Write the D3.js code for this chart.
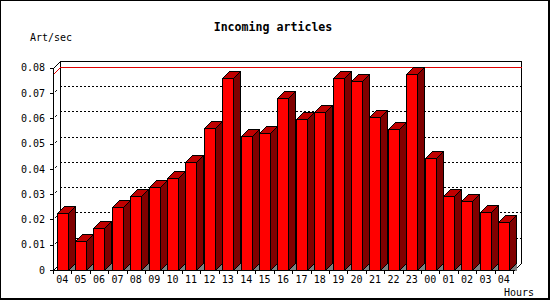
<!DOCTYPE html>
<html><head><meta charset="utf-8">
<script src="https://cdn.jsdelivr.net/npm/d3@7"></script>
<style>
html,body{margin:0;padding:0;background:#fff;}
svg{display:block;}
text{font-family:"DejaVu Sans Mono",monospace;fill:#000;}
</style></head>
<body>
<script>
const title = "Incoming articles";
const yTitle = "Art/sec";
const xTitle = "Hours";
const hours = ["04","05","06","07","08","09","10","11","12","13","14","15","16","17","18","19","20","21","22","23","00","01","02","03","04"];
const values = [0.0224,0.0115,0.0165,0.0248,0.0291,0.0327,0.0362,0.0425,0.0560,0.0757,0.0529,0.0540,0.0678,0.0597,0.0623,0.0757,0.0749,0.0603,0.0556,0.0773,0.0441,0.0294,0.0274,0.0230,0.0188];
const yTickValues = [0,0.01,0.02,0.03,0.04,0.05,0.06,0.07,0.08];
const yTickLabels = ["0","0.01","0.02","0.03","0.04","0.05","0.06","0.07","0.08"];

const W = 550, H = 300;
const D = 7; // depth offset
const svg = d3.select("body").append("svg").attr("width", W).attr("height", H);

// border
svg.append("rect").attr("x",0).attr("y",0).attr("width",W).attr("height",H).attr("fill","#fff");
svg.append("path").attr("d","M0.5,300V0.5H548").attr("stroke","#000").attr("fill","none").attr("shape-rendering","crispEdges");
svg.append("rect").attr("x",548).attr("y",0).attr("width",2).attr("height",300).attr("fill","#000");
svg.append("rect").attr("x",0).attr("y",298).attr("width",550).attr("height",2).attr("fill","#000");

const x0 = 53, x1 = 513, y0 = 270;
const y = d3.scaleLinear().domain([0,0.08]).range([y0, 67.6]);
const x = d3.scaleBand().domain(d3.range(hours.length)).range([x0, x1]).paddingInner(0).paddingOuter(0);
const bw = x.bandwidth();

const g = svg.append("g").attr("shape-rendering","crispEdges");

// back wall frame
const backTop = Math.round(y(0.08)) - D;
const r = v => Math.round(v) + 0.5;
g.append("path")
  .attr("d", `M${r(x0+D)},${r(y0-D)}V${r(backTop)}H${r(x1+D+1)}V${r(y0-D)}`)
  .attr("stroke","#000").attr("fill","none");

// gridlines (back plane)
g.selectAll("line.grid").data(yTickValues.filter(v => v > 0 && v < 0.08)).enter().append("line")
  .attr("x1", x0+D).attr("x2", x1+D+1)
  .attr("y1", d => r(y(d)-D)).attr("y2", d => r(y(d)-D))
  .attr("stroke","#000").attr("stroke-dasharray","2,2");

// small diagonal tick marks near the axis
g.selectAll("line.dtick").data(yTickValues.filter(v => v > 0 && v < 0.08)).enter().append("line")
  .attr("x1", x0+2).attr("x2", x0+4)
  .attr("y1", d => Math.round(y(d))-1).attr("y2", d => Math.round(y(d))-3)
  .attr("stroke","#000").attr("shape-rendering","auto").attr("stroke-width",0.9);

// max line (red)
const maxV = d3.max(values);
const ym = Math.round(y(maxV));
g.append("path")
  .attr("d", `M${x0},${ym}L${x0+D},${ym-D}H${x1+D+1}`)
  .attr("stroke","#e00000").attr("fill","none").attr("transform","translate(0.5,0.5)");

// frame diagonals
g.append("path").attr("d", `M${x0},${Math.round(y(0.08))}L${x0+D},${backTop}`).attr("stroke","#000").attr("fill","none").attr("transform","translate(0.5,0.5)");
g.append("path").attr("d", `M${x0},${y0}L${x0+D},${y0-D}`).attr("stroke","#000").attr("fill","none").attr("transform","translate(0.5,0.5)");
g.append("path").attr("d", `M${x1+1},${y0}L${x1+D+1},${y0-D}`).attr("stroke","#000").attr("fill","none").attr("transform","translate(0.5,0.5)");

// bars
const bars = g.selectAll("g.bar").data(values).enter().append("g").attr("class","bar")
  .attr("transform","translate(0.5,0.5)");
const fx = i => Math.round(x(i) + 3.5);
const fw = 11;
bars.append("path") // floor shadow
  .attr("d", (d,i) => `M${fx(i)+fw},${y0}L${fx(i)+fw+D},${y0-D}V${y0}Z`)
  .attr("fill","#808080").attr("stroke","none");
bars.append("path") // side
  .attr("d", (d,i) => { const t = Math.round(y(d)); const a = fx(i)+fw; return `M${a},${t}L${a+D},${t-D}V${y0-D}L${a},${y0}Z`; })
  .attr("fill","#800000").attr("stroke","#000");
bars.append("path") // top
  .attr("d", (d,i) => { const t = Math.round(y(d)); const a = fx(i); return `M${a},${t}L${a+D},${t-D}H${a+fw+D}L${a+fw},${t}Z`; })
  .attr("fill","#c00000").attr("stroke","#000");
bars.append("rect") // front
  .attr("x", (d,i) => fx(i)).attr("y", d => Math.round(y(d)))
  .attr("width", fw).attr("height", d => y0 - Math.round(y(d)))
  .attr("fill","#ff0000").attr("stroke","#000");

// y axis
const yAxis = d3.axisLeft(y).tickValues(yTickValues).tickFormat((d,i) => yTickLabels[i]).tickSize(3).tickSizeOuter(0).tickPadding(5);
const ya = svg.append("g").attr("transform",`translate(${x0},0)`).call(yAxis);
ya.selectAll("text").style("font-size","10px").style("font-family","DejaVu Sans Mono");
ya.selectAll("path,line").attr("stroke","#000").attr("shape-rendering","crispEdges");

// x axis
const xAxis = d3.axisBottom(x).tickFormat(i => hours[i]).tickSize(0).tickSizeOuter(0).tickPadding(6);
const xa = svg.append("g").attr("transform",`translate(0,${y0})`).call(xAxis);
xa.select(".domain").attr("d", `M${x0+0.5},0.5H${x1+1.5}`).attr("stroke","#000").attr("shape-rendering","crispEdges");
xa.selectAll("text").style("font-size","10px").style("font-family","DejaVu Sans Mono");
xa.selectAll("line.btick").data(d3.range(hours.length+1)).enter().append("line").attr("class","btick")
  .attr("x1", i => r(x0 + i*bw)).attr("x2", i => r(x0 + i*bw))
  .attr("y1", 0).attr("y2", 4).attr("stroke","#000").attr("shape-rendering","crispEdges");

// titles
svg.append("text").attr("x", 273).attr("y", 31).attr("text-anchor","middle")
  .style("font-size","11.6px").style("font-weight","bold").text(title);
svg.append("text").attr("x", 30).attr("y", 41).style("font-size","10px").text(yTitle);
svg.append("text").attr("x", 504).attr("y", 296).style("font-size","10px").text(xTitle);
</script>
</body></html>
